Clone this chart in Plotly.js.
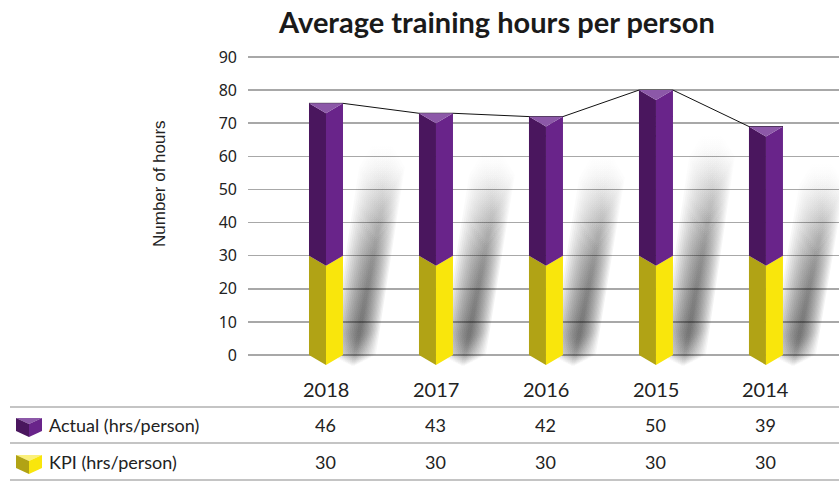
<!DOCTYPE html>
<html><head><meta charset="utf-8">
<script src="https://cdn.plot.ly/plotly-3.0.1.min.js"></script>
<style>html,body{margin:0;padding:0;background:#fff}#chart{width:839px;height:488px}</style>
</head><body><div id="chart"></div>
<script>
// ---- data ----
const years = ['2018', '2017', '2016', '2015', '2014'];
const actual = [46, 43, 42, 50, 39];
const kpi = [30, 30, 30, 30, 30];
const seriesNames = ['Actual (hrs/person)', 'KPI (hrs/person)'];
const yTicks = [0, 10, 20, 30, 40, 50, 60, 70, 80, 90];
const chartTitle = 'Average training hours per person';
const yTitle = 'Number of hours';

// ---- geometry ----
const W = 839, H = 488, L = 248, R = 0, T = 50, B = 116;
const plotW = W - L - R, plotH = H - T - B;
const xRange = [-0.709, 4.664], yRange = [-5.13, 92.11];
const pxX = plotW / (xRange[1] - xRange[0]);
const pxY = plotH / (yRange[1] - yRange[0]);
const hw = 17 / pxX, dep = 10 / pxY;
const px2x = p => (p - L) / plotW;
const px2y = p => (H - B - p) / plotH;

const C = {
  purL: '#4a165e', purR: '#69248a', purT: '#8c58a8',
  yelL: '#b1a315', yelR: '#f9e60c', yelT: '#fbf07a'
};

function poly(pts, xs, ys) { pts.forEach(p => { xs.push(p[0]); ys.push(p[1]); }); xs.push(null); ys.push(null); }
function faceTrace(xs, ys, color) {
  return {type: 'scatter', mode: 'lines', x: xs, y: ys, fill: 'toself', fillcolor: color,
          line: {width: 0, color: color}, hoverinfo: 'skip', showlegend: false};
}

const traces = [];
const totals = actual.map((a, i) => a + kpi[i]);

// soft shadows
const nL = 14;
years.forEach((y, i) => {
  const v = totals[i];
  const cx0 = i + 27 / pxX, cxT = i + 56 / pxX, yT = 0.78 * v;
  for (let k = 0; k < nL; k++) {
    const h = (2 + 1.6 * k) / pxX;
    const top = yT + (k - nL / 2) * 0.9;
    const y0 = -1.5 + (k - nL / 2) * 0.25;
    const xs = [], ys = [];
    poly([[cx0 - h, y0], [cx0 + h, y0], [cxT + h, top - 8], [cxT + h * 0.45, top - 1.5], [cxT - h * 0.45, top - 1.5], [cxT - h, top - 8]], xs, ys);
    traces.push({type: 'scatter', mode: 'lines', x: xs, y: ys, fill: 'toself',
      fillgradient: {type: 'vertical', start: y0, stop: top,
        colorscale: [[0, 'rgba(0,0,0,0.025)'], [0.12, 'rgba(0,0,0,0.055)'], [0.5, 'rgba(0,0,0,0.04)'], [1, 'rgba(0,0,0,0)']]},
      line: {width: 0}, hoverinfo: 'skip', showlegend: false});
  }
});

// connecting line
const lx = [], ly = [];
years.forEach((y, i) => { lx.push(i - hw, i + hw); ly.push(totals[i], totals[i]); });
traces.push({type: 'scatter', mode: 'lines', x: lx, y: ly, line: {color: '#111', width: 1}, hoverinfo: 'skip', showlegend: false});

// prisms
function prism(base, vals, cL, cR, cT, withTop) {
  const lxs = [], lys = [], rxs = [], rys = [], txs = [], tys = [];
  vals.forEach((v, i) => {
    const b = base[i], t = base[i] + v;
    poly([[i - hw, b], [i, b - dep], [i, t - dep], [i - hw, t]], lxs, lys);
    poly([[i, b - dep], [i + hw, b], [i + hw, t], [i, t - dep]], rxs, rys);
    poly([[i - hw, t], [i + hw, t], [i, t - dep]], txs, tys);
  });
  traces.push(faceTrace(lxs, lys, cL));
  traces.push(faceTrace(rxs, rys, cR));
  if (withTop) traces.push(faceTrace(txs, tys, cT));
}
prism(kpi.map(() => 0), kpi, C.yelL, C.yelR, C.yelT, false);
prism(kpi, actual, C.purL, C.purR, C.purT, true);

// ---- table ----
const shapes = [];
[407, 443, 480].forEach(py => shapes.push({type: 'line', xref: 'paper', yref: 'paper',
  x0: px2x(10), x1: px2x(839), y0: px2y(py), y1: px2y(py), line: {color: '#b0b0b0', width: 1.5}}));

function icon(top, cL, cR, cT) {
  const P = (a, b) => px2x(a).toFixed(5) + ',' + px2y(b).toFixed(5);
  const x0 = 16, x1 = 42, xm = 29;
  const path = (pts) => 'M' + pts.map(p => P(p[0], p[1])).join(' L') + ' Z';
  shapes.push({type: 'path', xref: 'paper', yref: 'paper', path: path([[x0, top], [x1, top], [xm, top + 6]]), fillcolor: cT, line: {width: 0}});
  shapes.push({type: 'path', xref: 'paper', yref: 'paper', path: path([[x0, top], [xm, top + 6], [xm, top + 19], [x0, top + 13]]), fillcolor: cL, line: {width: 0}});
  shapes.push({type: 'path', xref: 'paper', yref: 'paper', path: path([[xm, top + 6], [x1, top], [x1, top + 13], [xm, top + 19]]), fillcolor: cR, line: {width: 0}});
}
icon(418, C.purL, C.purR, C.purT);
icon(455, C.yelL, C.yelR, C.yelT);

const tf = {family: 'Lato, sans-serif', size: 18, color: '#222'};
const annotations = [];
years.forEach((y, i) => {
  annotations.push({x: i, xref: 'x', y: px2y(389), yref: 'paper', text: y, showarrow: false, font: {family: 'Lato, sans-serif', size: 20, color: '#222'}, yanchor: 'middle'});
  annotations.push({x: i, xref: 'x', y: px2y(425), yref: 'paper', text: String(actual[i]), showarrow: false, font: tf, yanchor: 'middle'});
  annotations.push({x: i, xref: 'x', y: px2y(462), yref: 'paper', text: String(kpi[i]), showarrow: false, font: tf, yanchor: 'middle'});
});
annotations.push({x: px2x(47), xref: 'paper', xanchor: 'left', y: px2y(425), yref: 'paper', yanchor: 'middle', text: seriesNames[0], showarrow: false, font: tf});
annotations.push({x: px2x(47), xref: 'paper', xanchor: 'left', y: px2y(462), yref: 'paper', yanchor: 'middle', text: seriesNames[1], showarrow: false, font: tf});
annotations.push({x: px2x(159), xref: 'paper', xanchor: 'center', y: px2y(184), yref: 'paper', yanchor: 'middle', text: yTitle, textangle: -90, showarrow: false,
  font: {family: 'Liberation Sans, Arial, sans-serif', size: 17, color: '#222'}});

const layout = {
  width: W, height: H, margin: {l: L, r: R, t: T, b: B},
  paper_bgcolor: '#fff', plot_bgcolor: '#fff',
  title: {text: '<b>' + chartTitle + '</b>', x: 497 / W, xref: 'container', xanchor: 'center', y: 1 - 23 / H, yref: 'container', yanchor: 'middle',
    font: {family: 'Lato, sans-serif', size: 29, color: '#1a1a1a'}},
  xaxis: {range: xRange, showgrid: false, zeroline: false, showticklabels: false, ticks: '', fixedrange: true},
  yaxis: {range: yRange, tickvals: yTicks, ticktext: yTicks.map(String), showgrid: true, gridcolor: '#a8a8a8', gridwidth: 1.5,
    zeroline: false, ticks: '', ticklabelstandoff: 10, tickfont: {family: 'Noto Sans, sans-serif', size: 16, color: '#222'}, fixedrange: true},
  shapes: shapes, annotations: annotations, showlegend: false
};
Plotly.newPlot('chart', traces, layout, {displayModeBar: false, staticPlot: true});
</script></body></html>
